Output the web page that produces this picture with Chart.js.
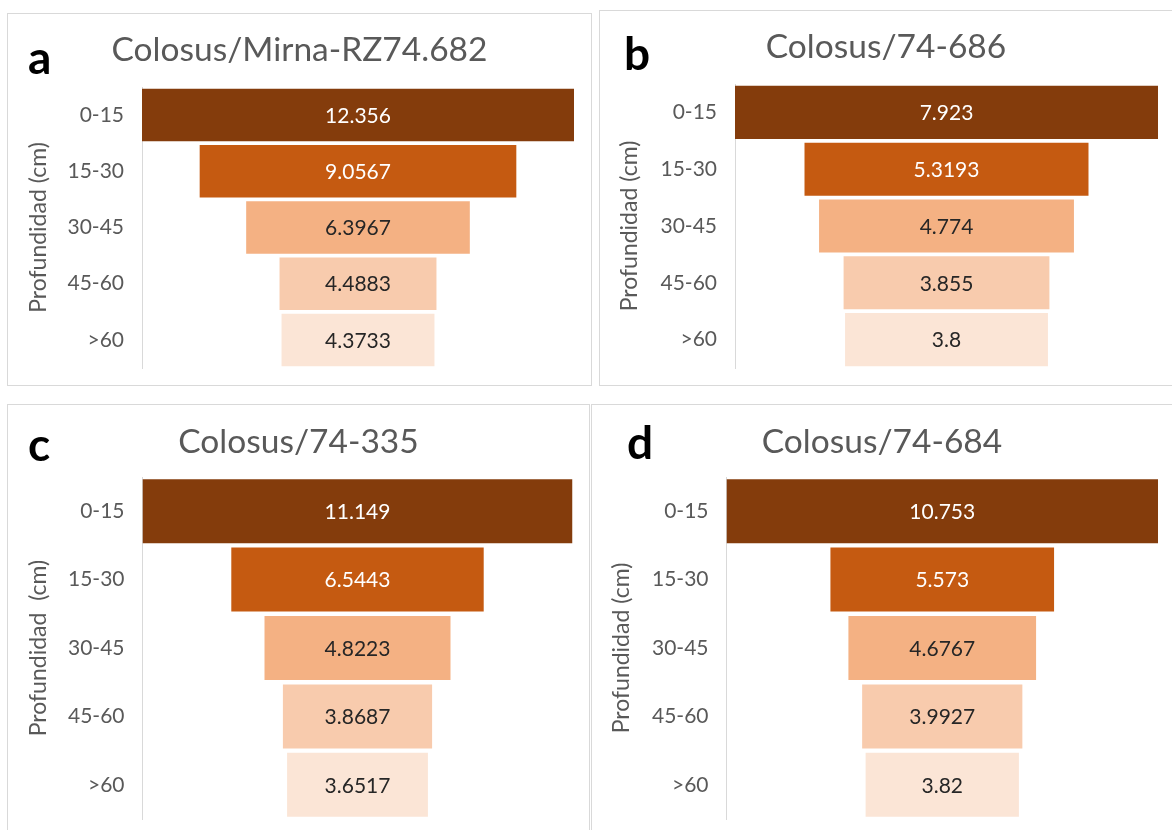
<!DOCTYPE html>
<html>
<head>
<meta charset="utf-8">
<title>Profundidad por perfil</title>
<script src="https://cdn.jsdelivr.net/npm/chart.js@4.4.1/dist/chart.umd.min.js"></script>
<style>
  html, body { margin: 0; padding: 0; background: #ffffff; }
  #page { position: relative; width: 1172px; height: 830px; overflow: hidden; background: #ffffff; }
  .frame { position: absolute; box-sizing: border-box; border: 1px solid #d9d9d9; }
  .tag { position: absolute; font: bold 46px/46px Lato, sans-serif; color: #000000; }
  canvas { position: absolute; }
</style>
</head>
<body>
<div id="page"></div>
<script>
// Depth classes (y categories)
const depthLabels = ['0-15', '15-30', '30-45', '45-60', '>60'];

// Values per profile
const valuesA = [12.356, 9.0567, 6.3967, 4.4883, 4.3733];
const valuesB = [7.923, 5.3193, 4.774, 3.855, 3.8];
const valuesC = [11.149, 6.5443, 4.8223, 3.8687, 3.6517];
const valuesD = [10.753, 5.573, 4.6767, 3.9927, 3.82];

const panelTitles = ['Colosus/Mirna-RZ74.682', 'Colosus/74-686', 'Colosus/74-335', 'Colosus/74-684'];
const panelTags = ['a', 'b', 'c', 'd'];
const axisTitles = ['Profundidad (cm)', 'Profundidad (cm)', 'Profundidad  (cm)', 'Profundidad (cm)'];

const shadeColors = ['#843C0C', '#C55A11', '#F4B183', '#F8CBAD', '#FBE5D6'];
const valueTextColors = ['#ffffff', '#ffffff', '#262626', '#262626', '#262626'];

const seriesList = [valuesA, valuesB, valuesC, valuesD];

// Page layout of each panel: frame, canvas box, plot area and text anchors
const panels = [
  { frame: { x: 7, y: 13, w: 585, h: 373 }, tag: { x: 28, y: 34 },
    x: 8, y: 14, w: 583, h: 400, plotLeft: 142, plotRight: 574, plotTop: 87, plotBottom: 368,
    titleY: 50.5, axisTitleX: 38.5 },
  { frame: { x: 599, y: 10, w: 600, h: 376 }, tag: { x: 624, y: 30 },
    x: 600, y: 11, w: 572, h: 400, plotLeft: 735, plotRight: 1158, plotTop: 84, plotBottom: 368,
    titleY: 47.5, axisTitleX: 629.5 },
  { frame: { x: 7, y: 404, w: 583, h: 500 }, tag: { x: 28, y: 421 },
    x: 8, y: 405, w: 581, h: 460, plotLeft: 142.5, plotRight: 572.5, plotTop: 477, plotBottom: 819,
    titleY: 442.5, axisTitleX: 38.5 },
  { frame: { x: 591, y: 404, w: 600, h: 500 }, tag: { x: 627, y: 419 },
    x: 592, y: 405, w: 580, h: 460, plotLeft: 726.5, plotRight: 1158, plotTop: 477, plotBottom: 819,
    titleY: 442.5, axisTitleX: 621.5 }
];

const page = document.getElementById('page');
Chart.defaults.font.family = 'Lato, sans-serif';

function buildPanel(p, i) {
  const frame = document.createElement('div');
  frame.className = 'frame';
  Object.assign(frame.style, { left: p.frame.x + 'px', top: p.frame.y + 'px', width: p.frame.w + 'px', height: p.frame.h + 'px' });
  page.appendChild(frame);

  const canvas = document.createElement('canvas');
  canvas.width = p.w;
  canvas.height = p.h;
  canvas.style.left = p.x + 'px';
  canvas.style.top = p.y + 'px';
  page.appendChild(canvas);

  const tag = document.createElement('div');
  tag.className = 'tag';
  tag.textContent = panelTags[i];
  tag.style.left = p.tag.x + 'px';
  tag.style.top = p.tag.y + 'px';
  page.appendChild(tag);

  const values = seriesList[i];
  const peak = Math.max(...values);

  // equal side padding keeps the chart title centred on the panel
  const side = p.x + p.w - p.plotRight;

  const titleSize = 33.5;
  const titleLine = titleSize * 1.2;
  const titleTop = p.titleY - p.y - titleLine / 2;
  const titleBottom = p.plotTop - p.y - titleTop - titleLine;

  const tickSize = 21;
  const axisTitleSize = 23;
  const axisTitleLine = axisTitleSize * 1.2;

  // Value written in the middle of each funnel bar
  const valueLabels = {
    id: 'valueLabels',
    afterDatasetsDraw(chart) {
      const ctx = chart.ctx;
      const meta = chart.getDatasetMeta(0);
      ctx.save();
      ctx.font = '21px Lato, sans-serif';
      ctx.textAlign = 'center';
      ctx.textBaseline = 'middle';
      meta.data.forEach((bar, j) => {
        const c = bar.getCenterPoint();
        ctx.fillStyle = valueTextColors[j];
        ctx.fillText(String(values[j]), c.x, c.y + 1);
      });
      ctx.restore();
    }
  };

  new Chart(canvas, {
    type: 'bar',
    data: {
      labels: depthLabels,
      datasets: [{
        data: values.map(v => [-v / 2, v / 2]),
        backgroundColor: shadeColors,
        borderWidth: 0,
        barPercentage: 0.935,
        categoryPercentage: 1
      }]
    },
    options: {
      indexAxis: 'y',
      responsive: false,
      animation: false,
      devicePixelRatio: 1,
      layout: {
        padding: { left: side, top: 0, right: side, bottom: p.y + p.h - p.plotBottom }
      },
      plugins: {
        legend: { display: false },
        tooltip: { enabled: false },
        title: {
          display: true,
          text: panelTitles[i],
          color: '#595959',
          font: { family: 'Lato, sans-serif', size: titleSize, weight: 'normal', lineHeight: 1.2 },
          padding: { top: titleTop, bottom: titleBottom }
        }
      },
      scales: {
        x: { display: false, min: -peak / 2, max: peak / 2 },
        y: {
          grid: { display: false, drawTicks: false },
          border: { display: true, color: '#d9d9d9', width: 1 },
          ticks: { color: '#595959', font: { family: 'Lato, sans-serif', size: tickSize }, padding: 18 },
          title: {
            display: true,
            text: axisTitles[i],
            color: '#595959',
            font: { family: 'Lato, sans-serif', size: axisTitleSize, lineHeight: 1.2 },
            padding: { top: Math.max(0, p.axisTitleX - p.x - side - axisTitleLine / 2), bottom: 0 }
          },
          afterFit: scale => { scale.width = p.plotLeft - p.x - side; }
        }
      }
    },
    plugins: [valueLabels]
  });
}

panels.forEach(buildPanel);
</script>
</body>
</html>
